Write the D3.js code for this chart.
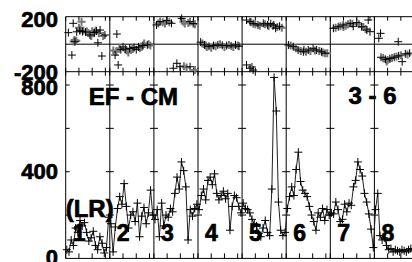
<!DOCTYPE html>
<meta charset="utf-8">
<html>
<head>
<style>
    body { margin: 0; background: #fff; }
    text { font-family: "Liberation Sans", Arial, sans-serif; font-weight: bold; fill: #000; stroke: #000; stroke-width: 0.7; }
</style>
<script src="https://d3js.org/d3.v7.min.js"></script>
</head>
<body>
<svg width="412" height="262"></svg>
<script>

// segment names and tick labels
var segmentLabels = ["1", "2", "3", "4", "5", "6", "7", "8"];
var topTicks = [200, -200];
var bottomTicks = [800, 400, 0];
var titleLeft = "EF - CM", titleRight = "3 - 6", sideLabel = "(LR)";

// bottom panel: one value every half unit, 20 per segment
var line1 = [40, 30, 85, 60, 140, 120, 175, 150, 165, 120, 80, 95, 125, 60, 40, 100, 70, 25, 50, 190];
var line2 = [160, 30, 145, 230, 285, 250, 345, 240, 140, 200, 215, 170, 255, 100, 195, 235, 160, 210, 315, 200];
var line3 = [180, 225, 100, 255, 150, 200, 190, 230, 215, 300, 375, 320, 445, 405, 330, 85, 225, 195, 230, 250];
var line4 = [225, 290, 320, 270, 360, 375, 340, 390, 300, 270, 290, 310, 275, 300, 130, 240, 290, 280, 240, 210];
var line5 = [255, 230, 225, 210, 180, 160, 150, 115, 100, 140, 175, 120, 105, 320, 835, 680, 260, 130, 105, 120];
var line6 = [230, 285, 330, 290, 410, 490, 355, 315, 300, 285, 240, 200, 170, 130, 210, 190, 230, 175, 225, 200];
var line7 = [210, 205, 260, 225, 170, 180, 250, 215, 255, 245, 330, 360, 445, 410, 380, 300, 260, 205, 135, 50];
var line8 = [225, 300, 105, 85, 95, 60, 40, 45, 30, 40, 35, 30, 40, 35, 30, 40, 45, 35, 40, 35];

// top panel: [time, value] crosses, black and grey
var black1 = [[1.7,152],[0.6,84],[2.1,18],[1.4,-79],[3.2,98],[4.5,88],[5.5,67],[6.5,85],[7.0,95],[7.8,103],[8.9,67],[8.2,-86],[7.3,10],[2.5,90],[3.8,92]];
var grey1 = [[3.6,164],[3.0,120],[3.3,105],[4.0,100],[4.8,92],[5.2,80],[6.0,95],[6.8,100],[7.5,80],[8.5,60],[2.0,30],[2.4,25],[1.8,20],[5.8,60],[6.3,80]];
var black2 = [[11.6,74],[11.9,-151],[11.2,-79],[12.5,-40],[13.5,-35],[14.5,-30],[15.5,-25],[16.5,-20],[17.5,-10],[18.5,-5],[13.0,-20],[16.0,-40]];
var grey2 = [[10.8,-45],[11.5,-55],[12.2,-30],[13.8,-45],[14.8,-40],[15.2,-35],[16.8,-30],[17.2,-20],[17.8,5],[18.8,0],[19.2,-10],[14.2,-60]];
var black3 = [[20.6,140],[21.4,164],[22.9,171],[24,152],[26.3,188],[28.2,164],[28.9,150],[25.2,-139],[25.9,-164],[28.2,-164],[24.4,-175]];
var grey3 = [[21,150],[22,160],[22.5,150],[23.5,160],[26.7,164],[27,150],[27.8,155],[29.3,145],[26.8,-160],[27.4,-170],[29.3,-188]];
var black4 = [[30.6,15],[31.5,-5],[32.5,-15],[33.5,-10],[34.5,-5],[35.5,-8],[36.5,-10],[37.5,-12],[38.5,-5],[39.3,-15]];
var grey4 = [[31,5],[32,-20],[33,-25],[34,-15],[35,0],[36,-20],[37,-5],[38,-20],[39,-10],[31.8,-10]];
var black5 = [[41,176],[41.8,164],[42.5,150],[43.6,140],[44.8,152],[45.8,140],[46.5,150],[47.2,140],[47.6,116],[48.5,130],[41,-151],[41.8,-175],[42.5,-188]];
var grey5 = [[42,160],[43,145],[44,135],[45.2,145],[46,130],[47,135],[48,125],[49,120],[42.2,-165]];
var black6 = [[50.5,-6],[51.6,-18],[52.7,-42],[53.9,-55],[55,-42],[56.1,-30],[56.9,-42],[58,-55],[58.8,-66]];
var grey6 = [[51,-10],[52.2,-30],[53.3,-50],[54.5,-55],[55.5,-50],[56.5,-45],[57.5,-50],[58.3,-60],[59.3,-65],[54,-40]];
var black7 = [[60.7,116],[61.8,127],[62.9,140],[64.5,152],[66,157],[67.1,127],[68.3,103],[69,91],[68.6,176],[65.2,130]];
var grey7 = [[61.2,120],[62.3,130],[63.5,135],[64,145],[65,148],[66.5,145],[67.5,125],[68,110],[63,125]];
var black8 = [[71.4,79],[71,43],[75.4,18],[71.5,-95],[72.5,-110],[73.5,-105],[74.5,-95],[75.5,-85],[76.3,-127],[77,-70],[78,-65]];
var grey8 = [[72,-100],[73,-115],[74,-100],[75,-90],[76,-80],[77.5,-75],[72.8,-125]];

var svg = d3.select("svg");

var x = d3.scaleLinear().domain([0, 80]).range([65.7, 418.5]);
var yTop = d3.scaleLinear().domain([-200, 200]).range([71.7, 16.7]);
var yBot = d3.scaleLinear().domain([0, 800]).range([258.4, 85]);

var lines = [line1, line2, line3, line4, line5, line6, line7, line8];
var blacks = [black1, black2, black3, black4, black5, black6, black7, black8];
var greys = [grey1, grey2, grey3, grey4, grey5, grey6, grey7, grey8];

var lineData = [];
lines.forEach(function(vals, s) {
    vals.forEach(function(v, i) { lineData.push([s * 10 + 0.25 + i * 0.5, v]); });
});

function cross(px, py, r) {
    return "M" + (px - r) + "," + py + "H" + (px + r) + "M" + px + "," + (py - r) + "V" + (py + r);
}

var frame = svg.append("g").attr("stroke", "#000").attr("stroke-width", 1).attr("fill", "none");

// horizontal lines of top panel
[200, 0, -200].forEach(function(v) {
    frame.append("line").attr("x1", x(0)).attr("x2", 412).attr("y1", yTop(v)).attr("y2", yTop(v));
});
frame.append("line").attr("x1", x(0)).attr("x2", 412).attr("y1", yBot(0)).attr("y2", yBot(0));

// segment dividers
d3.range(0, 9).forEach(function(s) {
    frame.append("line").attr("x1", x(s * 10)).attr("x2", x(s * 10))
        .attr("y1", yTop(200)).attr("y2", yBot(0));
    [200, 400, 600, 800].forEach(function(v) {
        frame.append("line").attr("x1", x(s * 10) - (s ? 4 : 0)).attr("x2", x(s * 10) + 4)
            .attr("y1", yBot(v)).attr("y2", yBot(v));
    });
});

// time ticks, restart in each segment
var tickTimes = [];
d3.range(0, 9).forEach(function(s) { [0, 3, 6, 9].forEach(function(k) { tickTimes.push(s * 10 + k); }); });
tickTimes.forEach(function(t) {
    var px = x(t);
    frame.append("line").attr("x1", px).attr("x2", px).attr("y1", yTop(200)).attr("y2", yTop(200) + 4);
    frame.append("line").attr("x1", px).attr("x2", px).attr("y1", yTop(-200) - 4).attr("y2", yTop(-200) + 4);
    frame.append("line").attr("x1", px).attr("x2", px).attr("y1", yBot(0) - 5).attr("y2", yBot(0));
});

// top panel crosses
var topG = svg.append("g").attr("fill", "none");
greys.forEach(function(pts) {
    topG.selectAll(null).data(pts).enter().append("path")
        .attr("stroke", "#777").attr("stroke-width", 2)
        .attr("d", function(d) { return cross(x(d[0]), yTop(d[1]), 4); });
});
blacks.forEach(function(pts) {
    topG.selectAll(null).data(pts).enter().append("path")
        .attr("stroke", "#000").attr("stroke-width", 1)
        .attr("d", function(d) { return cross(x(d[0]), yTop(d[1]), 4); });
});

// bottom panel line with crosses
svg.append("path").datum(lineData)
    .attr("fill", "none").attr("stroke", "#222").attr("stroke-width", 1)
    .attr("d", d3.line().x(function(d) { return x(d[0]); }).y(function(d) { return yBot(d[1]); }));
svg.append("g").attr("fill", "none").attr("stroke", "#000").attr("stroke-width", 1)
    .selectAll("path").data(lineData).enter().append("path")
    .attr("d", function(d) { return cross(x(d[0]), yBot(d[1]), 4); });

// labels
var labels = svg.append("g").attr("font-size", 22);
topTicks.forEach(function(v, i) {
    labels.append("text").attr("x", 58).attr("y", yTop(v) + (i ? 8 : 10))
        .attr("text-anchor", "end").text(v);
});
bottomTicks.forEach(function(v) {
    labels.append("text").attr("x", 58).attr("y", yBot(v) + (v === 800 ? 10 : 7))
        .attr("text-anchor", "end").text(v);
});

var big = svg.append("g").attr("font-size", 24);
big.append("text").attr("x", x(0) + 23).attr("y", yBot(708)).text(titleLeft);
big.append("text").attr("x", x(80) - 22).attr("y", yBot(712)).attr("text-anchor", "end").text(titleRight);
big.append("text").attr("x", x(0)).attr("y", yBot(190)).text(sideLabel);
segmentLabels.forEach(function(l, s) {
    big.append("text").attr("x", x(s * 10) + 7).attr("y", yBot(80)).attr("font-size", 23).text(l);
});

</script>
</body>
</html>
